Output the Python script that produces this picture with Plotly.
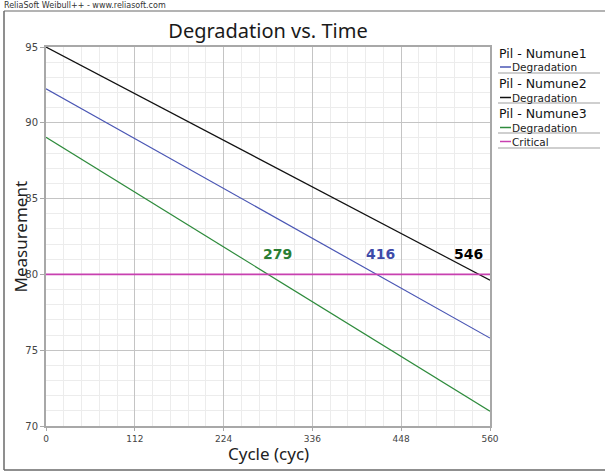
import plotly.graph_objects as go

# ---- data ----
cycle_ends = [0, 560]
numune1_deg = [92.25, 75.80]
numune2_deg = [95.00, 79.62]
numune3_deg = [89.04, 70.97]
critical = [80, 80]
crossings = [279, 416, 546]          # green, blue, black
crossing_series = ["Pil - Numune3", "Pil - Numune1", "Pil - Numune2"]
group_names = ["Pil - Numune1", "Pil - Numune2", "Pil - Numune3"]
series_name = "Degradation"
critical_name = "Critical"
x_ticks = [0, 112, 224, 336, 448, 560]
y_ticks = [70, 75, 80, 85, 90, 95]

colors = {"Pil - Numune1": "#4a56b4", "Pil - Numune2": "#111111",
          "Pil - Numune3": "#2e8b3c", "Critical": "#c840b0"}
label_colors = {"Pil - Numune1": "#3e4aa8", "Pil - Numune2": "#000000",
                "Pil - Numune3": "#2a7d33"}

W, H = 605, 472
L, R, T, B = 46, 490, 47, 426

fig = go.Figure()
series = [numune1_deg, numune2_deg, numune3_deg]
for g, ys in zip(group_names, series):
    fig.add_trace(go.Scatter(x=cycle_ends, y=ys, mode="lines", name=g,
                             line=dict(color=colors[g], width=1.2),
                             showlegend=False, hoverinfo="skip"))
fig.add_trace(go.Scatter(x=cycle_ends, y=critical, mode="lines", name=critical_name,
                         line=dict(color=colors["Critical"], width=1.6),
                         showlegend=False, hoverinfo="skip"))

pw, ph = R - L, B - T
def px(x):
    return (x - L) / pw
def py(y):
    return (B - y) / ph

annotations = []
# crossing annotations
shifts = {"Pil - Numune3": 10, "Pil - Numune1": 5, "Pil - Numune2": -10}
for cx, s in zip(crossings, crossing_series):
    annotations.append(dict(x=cx, y=80, xref="x", yref="y", text=f"<b>{cx}</b>",
                            showarrow=False, xshift=shifts[s], yshift=20,
                            font=dict(family="DejaVu Sans", size=14, color=label_colors[s])))

shapes = []
# outer frame
frame_col = "#6a6a6a"
shapes.append(dict(type="line", xref="paper", yref="paper", x0=px(4), x1=px(605),
                   y0=py(11), y1=py(11), line=dict(color="#9a9a9a", width=1.5)))
shapes.append(dict(type="line", xref="paper", yref="paper", x0=px(4), x1=px(4),
                   y0=py(11), y1=py(470), line=dict(color=frame_col, width=1.5)))
shapes.append(dict(type="line", xref="paper", yref="paper", x0=px(4), x1=px(605),
                   y0=py(470), y1=py(470), line=dict(color=frame_col, width=1.5)))

annotations.append(dict(xref="paper", yref="paper", x=px(2), y=py(5), xanchor="left",
                        yanchor="middle", showarrow=False,
                        text="ReliaSoft Weibull++ - www.reliasoft.com",
                        font=dict(family="DejaVu Sans", size=8, color="#333333")))

# axis titles
annotations.append(dict(xref="paper", yref="paper", x=px(20), y=py((T + B) / 2),
                        xanchor="center", yanchor="middle", showarrow=False, textangle=-90,
                        text="Measurement",
                        font=dict(family="Noto Sans", size=17, color="#222222")))
annotations.append(dict(xref="paper", yref="paper", x=px((L + R) / 2), y=py(453),
                        xanchor="center", yanchor="middle", showarrow=False,
                        text="Cycle (cyc)",
                        font=dict(family="Noto Sans", size=17, color="#222222")))

# legend (manual)
legend_rows = [
    ("title", "Pil - Numune1", 53), ("item", "Pil - Numune1", 67), ("rule", None, 73),
    ("title", "Pil - Numune2", 83.5), ("item", "Pil - Numune2", 97.5), ("rule", None, 103),
    ("title", "Pil - Numune3", 113.5), ("item", "Pil - Numune3", 127.5), ("rule", None, 133),
    ("item", "Critical", 141.5), ("rule", None, 148),
]
for kind, key, y in legend_rows:
    if kind == "title":
        annotations.append(dict(xref="paper", yref="paper", x=px(498), y=py(y),
                                xanchor="left", yanchor="middle", showarrow=False, borderpad=0,
                                text=key, font=dict(family="DejaVu Sans", size=12.5, color="#111111")))
    elif kind == "item":
        shapes.append(dict(type="line", xref="paper", yref="paper", x0=px(500), x1=px(511),
                           y0=py(y), y1=py(y), line=dict(color=colors[key], width=1.5)))
        label = critical_name if key == "Critical" else series_name
        annotations.append(dict(xref="paper", yref="paper", x=px(511), y=py(y),
                                xanchor="left", yanchor="middle", showarrow=False, borderpad=0,
                                text=label, font=dict(family="DejaVu Sans", size=10.5, color="#222222")))
    else:
        shapes.append(dict(type="line", xref="paper", yref="paper", x0=px(498), x1=px(600),
                           y0=py(y), y1=py(y), line=dict(color="#a0a0a0", width=1.2)))

fig.update_layout(
    width=W, height=H,
    margin=dict(l=L, r=W - R, t=T, b=H - B, pad=0),
    paper_bgcolor="white", plot_bgcolor="white",
    title=dict(text="Degradation vs. Time", x=(L + R) / 2 / W, xanchor="center",
               y=1 - 31 / H, yanchor="middle", yref="container",
               font=dict(family="Noto Sans", size=20, color="#1a1a1a")),
    shapes=shapes, annotations=annotations,
    showlegend=False,
)
fig.update_xaxes(range=[0, 560], tickvals=x_ticks, ticktext=[str(t) for t in x_ticks],
                 showgrid=True, gridcolor="#c4c4c4", gridwidth=1,
                 minor=dict(dtick=22.4, tick0=0, showgrid=True, gridcolor="#ececec"),
                 showline=True, linecolor="#a8a8a8", linewidth=2, mirror=True,
                 ticks="outside", ticklen=3, tickcolor="#a8a8a8",
                 tickfont=dict(family="DejaVu Sans", size=9, color="#444444"),
                 zeroline=False)
fig.update_yaxes(range=[70, 95], tickvals=y_ticks, ticktext=[str(t) for t in y_ticks],
                 showgrid=True, gridcolor="#c4c4c4", gridwidth=1,
                 minor=dict(dtick=1, tick0=70, showgrid=True, gridcolor="#ececec"),
                 showline=True, linecolor="#a8a8a8", linewidth=2, mirror=True,
                 ticks="outside", ticklen=4, tickcolor="#a8a8a8",
                 tickfont=dict(family="DejaVu Sans", size=10, color="#444444"),
                 zeroline=False)

fig.write_html("out.html")
